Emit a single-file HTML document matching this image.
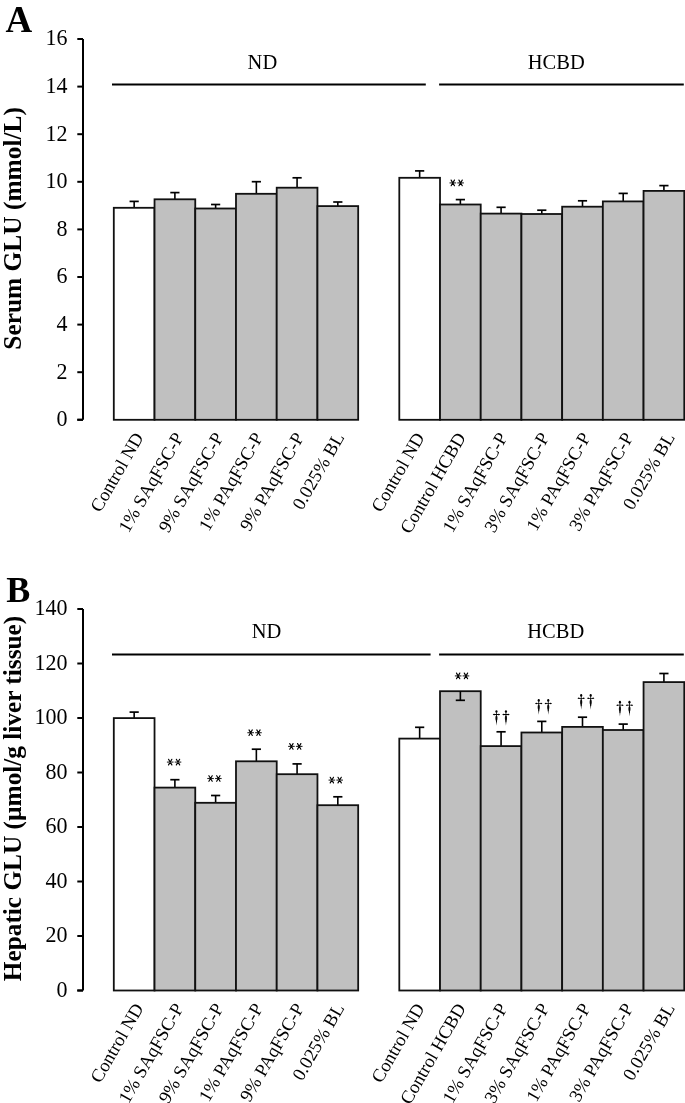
<!DOCTYPE html>
<html><head><meta charset="utf-8"><style>
html,body{margin:0;padding:0;background:#fff;}
body{width:685px;height:1103px;overflow:hidden;font-family:"Liberation Serif",serif;}
svg{display:block;will-change:transform;}
</style></head><body>
<svg width="685" height="1103" viewBox="0 0 685 1103">
<rect width="685" height="1103" fill="#fff"/>
<text x="5.6" y="31.8" font-size="37" font-weight="bold" font-family="Liberation Serif, serif">A</text>
<text x="6.2" y="601.5" font-size="36" font-weight="bold" font-family="Liberation Serif, serif">B</text>
<path d="M83.0,39 V419.8 M77.3,419.8 H83.0" stroke="#000" stroke-width="2" fill="none"/>
<line x1="77.3" y1="419.8" x2="83.0" y2="419.8" stroke="#000" stroke-width="2"/>
<text transform="translate(67.6,426.2) scale(1,1.09)" text-anchor="end" font-size="22" font-family="Liberation Serif, serif">0</text>
<line x1="77.3" y1="372.2" x2="83.0" y2="372.2" stroke="#000" stroke-width="2"/>
<text transform="translate(67.6,378.59999999999997) scale(1,1.09)" text-anchor="end" font-size="22" font-family="Liberation Serif, serif">2</text>
<line x1="77.3" y1="324.6" x2="83.0" y2="324.6" stroke="#000" stroke-width="2"/>
<text transform="translate(67.6,331.0) scale(1,1.09)" text-anchor="end" font-size="22" font-family="Liberation Serif, serif">4</text>
<line x1="77.3" y1="277.0" x2="83.0" y2="277.0" stroke="#000" stroke-width="2"/>
<text transform="translate(67.6,283.4) scale(1,1.09)" text-anchor="end" font-size="22" font-family="Liberation Serif, serif">6</text>
<line x1="77.3" y1="229.4" x2="83.0" y2="229.4" stroke="#000" stroke-width="2"/>
<text transform="translate(67.6,235.8) scale(1,1.09)" text-anchor="end" font-size="22" font-family="Liberation Serif, serif">8</text>
<line x1="77.3" y1="181.8" x2="83.0" y2="181.8" stroke="#000" stroke-width="2"/>
<text transform="translate(67.6,188.20000000000002) scale(1,1.09)" text-anchor="end" font-size="22" font-family="Liberation Serif, serif">10</text>
<line x1="77.3" y1="134.2" x2="83.0" y2="134.2" stroke="#000" stroke-width="2"/>
<text transform="translate(67.6,140.6) scale(1,1.09)" text-anchor="end" font-size="22" font-family="Liberation Serif, serif">12</text>
<line x1="77.3" y1="86.60000000000002" x2="83.0" y2="86.60000000000002" stroke="#000" stroke-width="2"/>
<text transform="translate(67.6,93.00000000000003) scale(1,1.09)" text-anchor="end" font-size="22" font-family="Liberation Serif, serif">14</text>
<line x1="77.3" y1="39.0" x2="83.0" y2="39.0" stroke="#000" stroke-width="2"/>
<text transform="translate(67.6,45.4) scale(1,1.09)" text-anchor="end" font-size="22" font-family="Liberation Serif, serif">16</text>
<line x1="112" y1="84.6" x2="425.8" y2="84.6" stroke="#000" stroke-width="2"/>
<line x1="439.1" y1="84.6" x2="683.8" y2="84.6" stroke="#000" stroke-width="2"/>
<text x="262.4" y="68.6" text-anchor="middle" font-size="20.5" font-family="Liberation Serif, serif">ND</text>
<text x="556.3" y="68.5" text-anchor="middle" font-size="20.5" font-family="Liberation Serif, serif">HCBD</text>
<line x1="134.16" y1="207.8" x2="134.16" y2="201.4" stroke="#000" stroke-width="1.6"/>
<line x1="129.56" y1="201.4" x2="138.76" y2="201.4" stroke="#000" stroke-width="1.7"/>
<rect x="113.80" y="207.8" width="40.73" height="212.00" fill="#fff" stroke="#111" stroke-width="1.8"/>
<text transform="translate(144.16,437.20) rotate(-60)" text-anchor="end" font-size="18.5" font-family="Liberation Serif, serif">Control ND</text>
<line x1="174.89" y1="199.3" x2="174.89" y2="192.6" stroke="#000" stroke-width="1.6"/>
<line x1="170.29" y1="192.6" x2="179.49" y2="192.6" stroke="#000" stroke-width="1.7"/>
<rect x="154.53" y="199.3" width="40.73" height="220.50" fill="#c0c0c0" stroke="#111" stroke-width="1.8"/>
<text transform="translate(184.19,437.20) rotate(-60)" text-anchor="end" font-size="18.5" font-family="Liberation Serif, serif">1% SAqFSC-P</text>
<line x1="215.62" y1="208.5" x2="215.62" y2="204.5" stroke="#000" stroke-width="1.6"/>
<line x1="211.03" y1="204.5" x2="220.22" y2="204.5" stroke="#000" stroke-width="1.7"/>
<rect x="195.26" y="208.5" width="40.73" height="211.30" fill="#c0c0c0" stroke="#111" stroke-width="1.8"/>
<text transform="translate(224.22,437.20) rotate(-60)" text-anchor="end" font-size="18.5" font-family="Liberation Serif, serif">9% SAqFSC-P</text>
<line x1="256.36" y1="193.8" x2="256.36" y2="181.7" stroke="#000" stroke-width="1.6"/>
<line x1="251.76" y1="181.7" x2="260.96" y2="181.7" stroke="#000" stroke-width="1.7"/>
<rect x="235.99" y="193.8" width="40.73" height="226.00" fill="#c0c0c0" stroke="#111" stroke-width="1.8"/>
<text transform="translate(263.66,437.20) rotate(-60)" text-anchor="end" font-size="18.5" font-family="Liberation Serif, serif">1% PAqFSC-P</text>
<line x1="297.08" y1="187.7" x2="297.08" y2="177.8" stroke="#000" stroke-width="1.6"/>
<line x1="292.48" y1="177.8" x2="301.69" y2="177.8" stroke="#000" stroke-width="1.7"/>
<rect x="276.72" y="187.7" width="40.73" height="232.10" fill="#c0c0c0" stroke="#111" stroke-width="1.8"/>
<text transform="translate(304.69,437.20) rotate(-60)" text-anchor="end" font-size="18.5" font-family="Liberation Serif, serif">9% PAqFSC-P</text>
<line x1="337.81" y1="206.1" x2="337.81" y2="202" stroke="#000" stroke-width="1.6"/>
<line x1="333.21" y1="202" x2="342.42" y2="202" stroke="#000" stroke-width="1.7"/>
<rect x="317.45" y="206.1" width="40.73" height="213.70" fill="#c0c0c0" stroke="#111" stroke-width="1.8"/>
<text transform="translate(344.81,437.20) rotate(-60)" text-anchor="end" font-size="18.5" font-family="Liberation Serif, serif">0.025% BL</text>
<line x1="419.65" y1="177.8" x2="419.65" y2="170.9" stroke="#000" stroke-width="1.6"/>
<line x1="415.05" y1="170.9" x2="424.25" y2="170.9" stroke="#000" stroke-width="1.7"/>
<rect x="399.30" y="177.8" width="40.71" height="242.00" fill="#fff" stroke="#111" stroke-width="1.8"/>
<text transform="translate(425.15,437.20) rotate(-60)" text-anchor="end" font-size="18.5" font-family="Liberation Serif, serif">Control ND</text>
<line x1="460.37" y1="204.5" x2="460.37" y2="199.6" stroke="#000" stroke-width="1.6"/>
<line x1="455.76" y1="199.6" x2="464.97" y2="199.6" stroke="#000" stroke-width="1.7"/>
<rect x="440.01" y="204.5" width="40.71" height="215.30" fill="#c0c0c0" stroke="#111" stroke-width="1.8"/>
<text transform="translate(466.37,437.20) rotate(-60)" text-anchor="end" font-size="18.5" font-family="Liberation Serif, serif">Control HCBD</text>
<line x1="501.08" y1="213.6" x2="501.08" y2="207.3" stroke="#000" stroke-width="1.6"/>
<line x1="496.48" y1="207.3" x2="505.68" y2="207.3" stroke="#000" stroke-width="1.7"/>
<rect x="480.72" y="213.6" width="40.71" height="206.20" fill="#c0c0c0" stroke="#111" stroke-width="1.8"/>
<text transform="translate(508.18,437.20) rotate(-60)" text-anchor="end" font-size="18.5" font-family="Liberation Serif, serif">1% SAqFSC-P</text>
<line x1="541.79" y1="214" x2="541.79" y2="210.2" stroke="#000" stroke-width="1.6"/>
<line x1="537.19" y1="210.2" x2="546.39" y2="210.2" stroke="#000" stroke-width="1.7"/>
<rect x="521.43" y="214" width="40.71" height="205.80" fill="#c0c0c0" stroke="#111" stroke-width="1.8"/>
<text transform="translate(549.99,437.20) rotate(-60)" text-anchor="end" font-size="18.5" font-family="Liberation Serif, serif">3% SAqFSC-P</text>
<line x1="582.50" y1="206.7" x2="582.50" y2="200.8" stroke="#000" stroke-width="1.6"/>
<line x1="577.89" y1="200.8" x2="587.10" y2="200.8" stroke="#000" stroke-width="1.7"/>
<rect x="562.14" y="206.7" width="40.71" height="213.10" fill="#c0c0c0" stroke="#111" stroke-width="1.8"/>
<text transform="translate(591.10,437.20) rotate(-60)" text-anchor="end" font-size="18.5" font-family="Liberation Serif, serif">1% PAqFSC-P</text>
<line x1="623.21" y1="201.4" x2="623.21" y2="193.4" stroke="#000" stroke-width="1.6"/>
<line x1="618.61" y1="193.4" x2="627.81" y2="193.4" stroke="#000" stroke-width="1.7"/>
<rect x="602.85" y="201.4" width="40.71" height="218.40" fill="#c0c0c0" stroke="#111" stroke-width="1.8"/>
<text transform="translate(633.81,437.20) rotate(-60)" text-anchor="end" font-size="18.5" font-family="Liberation Serif, serif">3% PAqFSC-P</text>
<line x1="663.91" y1="190.9" x2="663.91" y2="185.6" stroke="#000" stroke-width="1.6"/>
<line x1="659.31" y1="185.6" x2="668.51" y2="185.6" stroke="#000" stroke-width="1.7"/>
<rect x="643.56" y="190.9" width="40.71" height="228.90" fill="#c0c0c0" stroke="#111" stroke-width="1.8"/>
<text transform="translate(675.41,437.20) rotate(-60)" text-anchor="end" font-size="18.5" font-family="Liberation Serif, serif">0.025% BL</text>
<text transform="translate(20.9,228.4) rotate(-90)" text-anchor="middle" font-size="25.4" font-weight="bold" font-family="Liberation Serif, serif">Serum GLU (mmol/L)</text>
<path d="M449.50,182.90 H456.10" stroke="#000" stroke-opacity="0.85" stroke-width="1.1" fill="none"/><path d="M451.15,180.10 L454.45,185.70 M454.45,180.10 L451.15,185.70" stroke="#000" stroke-width="1.15" stroke-linecap="round" fill="none"/><path d="M457.30,182.90 H463.90" stroke="#000" stroke-opacity="0.85" stroke-width="1.1" fill="none"/><path d="M458.95,180.10 L462.25,185.70 M462.25,180.10 L458.95,185.70" stroke="#000" stroke-width="1.15" stroke-linecap="round" fill="none"/>
<path d="M83.0,609 V990.5 M77.3,990.5 H83.0" stroke="#000" stroke-width="2" fill="none"/>
<line x1="77.3" y1="990.5" x2="83.0" y2="990.5" stroke="#000" stroke-width="2"/>
<text transform="translate(67.6,996.9) scale(1,1.09)" text-anchor="end" font-size="22" font-family="Liberation Serif, serif">0</text>
<line x1="77.3" y1="936.0" x2="83.0" y2="936.0" stroke="#000" stroke-width="2"/>
<text transform="translate(67.6,942.4) scale(1,1.09)" text-anchor="end" font-size="22" font-family="Liberation Serif, serif">20</text>
<line x1="77.3" y1="881.5" x2="83.0" y2="881.5" stroke="#000" stroke-width="2"/>
<text transform="translate(67.6,887.9) scale(1,1.09)" text-anchor="end" font-size="22" font-family="Liberation Serif, serif">40</text>
<line x1="77.3" y1="827.0" x2="83.0" y2="827.0" stroke="#000" stroke-width="2"/>
<text transform="translate(67.6,833.4) scale(1,1.09)" text-anchor="end" font-size="22" font-family="Liberation Serif, serif">60</text>
<line x1="77.3" y1="772.5" x2="83.0" y2="772.5" stroke="#000" stroke-width="2"/>
<text transform="translate(67.6,778.9) scale(1,1.09)" text-anchor="end" font-size="22" font-family="Liberation Serif, serif">80</text>
<line x1="77.3" y1="718.0" x2="83.0" y2="718.0" stroke="#000" stroke-width="2"/>
<text transform="translate(67.6,724.4) scale(1,1.09)" text-anchor="end" font-size="22" font-family="Liberation Serif, serif">100</text>
<line x1="77.3" y1="663.5" x2="83.0" y2="663.5" stroke="#000" stroke-width="2"/>
<text transform="translate(67.6,669.9) scale(1,1.09)" text-anchor="end" font-size="22" font-family="Liberation Serif, serif">120</text>
<line x1="77.3" y1="609.0" x2="83.0" y2="609.0" stroke="#000" stroke-width="2"/>
<text transform="translate(67.6,615.4) scale(1,1.09)" text-anchor="end" font-size="22" font-family="Liberation Serif, serif">140</text>
<line x1="112" y1="654.6" x2="430.6" y2="654.6" stroke="#000" stroke-width="2"/>
<line x1="439.1" y1="654.6" x2="683.8" y2="654.6" stroke="#000" stroke-width="2"/>
<text x="266.5" y="637.8" text-anchor="middle" font-size="20.5" font-family="Liberation Serif, serif">ND</text>
<text x="555.8" y="638.4" text-anchor="middle" font-size="20.5" font-family="Liberation Serif, serif">HCBD</text>
<line x1="134.16" y1="718.1" x2="134.16" y2="712.1" stroke="#000" stroke-width="1.6"/>
<line x1="129.56" y1="712.1" x2="138.76" y2="712.1" stroke="#000" stroke-width="1.7"/>
<rect x="113.80" y="718.1" width="40.73" height="272.40" fill="#fff" stroke="#111" stroke-width="1.8"/>
<text transform="translate(144.16,1007.90) rotate(-60)" text-anchor="end" font-size="18.5" font-family="Liberation Serif, serif">Control ND</text>
<line x1="174.89" y1="787.6" x2="174.89" y2="779.7" stroke="#000" stroke-width="1.6"/>
<line x1="170.29" y1="779.7" x2="179.49" y2="779.7" stroke="#000" stroke-width="1.7"/>
<rect x="154.53" y="787.6" width="40.73" height="202.90" fill="#c0c0c0" stroke="#111" stroke-width="1.8"/>
<text transform="translate(184.19,1007.90) rotate(-60)" text-anchor="end" font-size="18.5" font-family="Liberation Serif, serif">1% SAqFSC-P</text>
<line x1="215.62" y1="802.8" x2="215.62" y2="795.5" stroke="#000" stroke-width="1.6"/>
<line x1="211.03" y1="795.5" x2="220.22" y2="795.5" stroke="#000" stroke-width="1.7"/>
<rect x="195.26" y="802.8" width="40.73" height="187.70" fill="#c0c0c0" stroke="#111" stroke-width="1.8"/>
<text transform="translate(224.22,1007.90) rotate(-60)" text-anchor="end" font-size="18.5" font-family="Liberation Serif, serif">9% SAqFSC-P</text>
<line x1="256.36" y1="761.3" x2="256.36" y2="749.2" stroke="#000" stroke-width="1.6"/>
<line x1="251.76" y1="749.2" x2="260.96" y2="749.2" stroke="#000" stroke-width="1.7"/>
<rect x="235.99" y="761.3" width="40.73" height="229.20" fill="#c0c0c0" stroke="#111" stroke-width="1.8"/>
<text transform="translate(263.66,1007.90) rotate(-60)" text-anchor="end" font-size="18.5" font-family="Liberation Serif, serif">1% PAqFSC-P</text>
<line x1="297.08" y1="774.2" x2="297.08" y2="763.9" stroke="#000" stroke-width="1.6"/>
<line x1="292.48" y1="763.9" x2="301.69" y2="763.9" stroke="#000" stroke-width="1.7"/>
<rect x="276.72" y="774.2" width="40.73" height="216.30" fill="#c0c0c0" stroke="#111" stroke-width="1.8"/>
<text transform="translate(304.69,1007.90) rotate(-60)" text-anchor="end" font-size="18.5" font-family="Liberation Serif, serif">9% PAqFSC-P</text>
<line x1="337.81" y1="805.2" x2="337.81" y2="796.8" stroke="#000" stroke-width="1.6"/>
<line x1="333.21" y1="796.8" x2="342.42" y2="796.8" stroke="#000" stroke-width="1.7"/>
<rect x="317.45" y="805.2" width="40.73" height="185.30" fill="#c0c0c0" stroke="#111" stroke-width="1.8"/>
<text transform="translate(344.81,1007.90) rotate(-60)" text-anchor="end" font-size="18.5" font-family="Liberation Serif, serif">0.025% BL</text>
<line x1="419.65" y1="738.6" x2="419.65" y2="727.3" stroke="#000" stroke-width="1.6"/>
<line x1="415.05" y1="727.3" x2="424.25" y2="727.3" stroke="#000" stroke-width="1.7"/>
<rect x="399.30" y="738.6" width="40.71" height="251.90" fill="#fff" stroke="#111" stroke-width="1.8"/>
<text transform="translate(425.15,1007.90) rotate(-60)" text-anchor="end" font-size="18.5" font-family="Liberation Serif, serif">Control ND</text>
<line x1="460.37" y1="691.2" x2="460.37" y2="700.3" stroke="#000" stroke-width="1.6"/>
<line x1="455.76" y1="700.3" x2="464.97" y2="700.3" stroke="#000" stroke-width="1.7"/>
<rect x="440.01" y="691.2" width="40.71" height="299.30" fill="#c0c0c0" stroke="#111" stroke-width="1.8"/>
<line x1="460.37" y1="691.2" x2="460.37" y2="700.3" stroke="#000" stroke-width="1.6"/>
<line x1="455.76" y1="700.3" x2="464.97" y2="700.3" stroke="#000" stroke-width="1.7"/>
<text transform="translate(466.37,1007.90) rotate(-60)" text-anchor="end" font-size="18.5" font-family="Liberation Serif, serif">Control HCBD</text>
<line x1="501.08" y1="746.1" x2="501.08" y2="731.8" stroke="#000" stroke-width="1.6"/>
<line x1="496.48" y1="731.8" x2="505.68" y2="731.8" stroke="#000" stroke-width="1.7"/>
<rect x="480.72" y="746.1" width="40.71" height="244.40" fill="#c0c0c0" stroke="#111" stroke-width="1.8"/>
<text transform="translate(508.18,1007.90) rotate(-60)" text-anchor="end" font-size="18.5" font-family="Liberation Serif, serif">1% SAqFSC-P</text>
<line x1="541.79" y1="732.5" x2="541.79" y2="721.4" stroke="#000" stroke-width="1.6"/>
<line x1="537.19" y1="721.4" x2="546.39" y2="721.4" stroke="#000" stroke-width="1.7"/>
<rect x="521.43" y="732.5" width="40.71" height="258.00" fill="#c0c0c0" stroke="#111" stroke-width="1.8"/>
<text transform="translate(549.99,1007.90) rotate(-60)" text-anchor="end" font-size="18.5" font-family="Liberation Serif, serif">3% SAqFSC-P</text>
<line x1="582.50" y1="726.9" x2="582.50" y2="717.2" stroke="#000" stroke-width="1.6"/>
<line x1="577.89" y1="717.2" x2="587.10" y2="717.2" stroke="#000" stroke-width="1.7"/>
<rect x="562.14" y="726.9" width="40.71" height="263.60" fill="#c0c0c0" stroke="#111" stroke-width="1.8"/>
<text transform="translate(591.10,1007.90) rotate(-60)" text-anchor="end" font-size="18.5" font-family="Liberation Serif, serif">1% PAqFSC-P</text>
<line x1="623.21" y1="730" x2="623.21" y2="724.1" stroke="#000" stroke-width="1.6"/>
<line x1="618.61" y1="724.1" x2="627.81" y2="724.1" stroke="#000" stroke-width="1.7"/>
<rect x="602.85" y="730" width="40.71" height="260.50" fill="#c0c0c0" stroke="#111" stroke-width="1.8"/>
<text transform="translate(633.81,1007.90) rotate(-60)" text-anchor="end" font-size="18.5" font-family="Liberation Serif, serif">3% PAqFSC-P</text>
<line x1="663.91" y1="682.1" x2="663.91" y2="673.5" stroke="#000" stroke-width="1.6"/>
<line x1="659.31" y1="673.5" x2="668.51" y2="673.5" stroke="#000" stroke-width="1.7"/>
<rect x="643.56" y="682.1" width="40.71" height="308.40" fill="#c0c0c0" stroke="#111" stroke-width="1.8"/>
<text transform="translate(675.41,1007.90) rotate(-60)" text-anchor="end" font-size="18.5" font-family="Liberation Serif, serif">0.025% BL</text>
<text transform="translate(21.2,798.5) rotate(-90)" text-anchor="middle" font-size="25.3" font-weight="bold" font-family="Liberation Serif, serif">Hepatic GLU (&#181;mol/g liver tissue)</text>
<path d="M166.90,762.10 H173.50" stroke="#000" stroke-opacity="0.85" stroke-width="1.1" fill="none"/><path d="M168.55,759.30 L171.85,764.90 M171.85,759.30 L168.55,764.90" stroke="#000" stroke-width="1.15" stroke-linecap="round" fill="none"/><path d="M174.70,762.10 H181.30" stroke="#000" stroke-opacity="0.85" stroke-width="1.1" fill="none"/><path d="M176.35,759.30 L179.65,764.90 M179.65,759.30 L176.35,764.90" stroke="#000" stroke-width="1.15" stroke-linecap="round" fill="none"/>
<path d="M207.25,778.50 H213.85" stroke="#000" stroke-opacity="0.85" stroke-width="1.1" fill="none"/><path d="M208.90,775.70 L212.20,781.30 M212.20,775.70 L208.90,781.30" stroke="#000" stroke-width="1.15" stroke-linecap="round" fill="none"/><path d="M215.05,778.50 H221.65" stroke="#000" stroke-opacity="0.85" stroke-width="1.1" fill="none"/><path d="M216.70,775.70 L220.00,781.30 M220.00,775.70 L216.70,781.30" stroke="#000" stroke-width="1.15" stroke-linecap="round" fill="none"/>
<path d="M247.35,732.70 H253.95" stroke="#000" stroke-opacity="0.85" stroke-width="1.1" fill="none"/><path d="M249.00,729.90 L252.30,735.50 M252.30,729.90 L249.00,735.50" stroke="#000" stroke-width="1.15" stroke-linecap="round" fill="none"/><path d="M255.15,732.70 H261.75" stroke="#000" stroke-opacity="0.85" stroke-width="1.1" fill="none"/><path d="M256.80,729.90 L260.10,735.50 M260.10,729.90 L256.80,735.50" stroke="#000" stroke-width="1.15" stroke-linecap="round" fill="none"/>
<path d="M288.10,746.40 H294.70" stroke="#000" stroke-opacity="0.85" stroke-width="1.1" fill="none"/><path d="M289.75,743.60 L293.05,749.20 M293.05,743.60 L289.75,749.20" stroke="#000" stroke-width="1.15" stroke-linecap="round" fill="none"/><path d="M295.90,746.40 H302.50" stroke="#000" stroke-opacity="0.85" stroke-width="1.1" fill="none"/><path d="M297.55,743.60 L300.85,749.20 M300.85,743.60 L297.55,749.20" stroke="#000" stroke-width="1.15" stroke-linecap="round" fill="none"/>
<path d="M328.55,780.10 H335.15" stroke="#000" stroke-opacity="0.85" stroke-width="1.1" fill="none"/><path d="M330.20,777.30 L333.50,782.90 M333.50,777.30 L330.20,782.90" stroke="#000" stroke-width="1.15" stroke-linecap="round" fill="none"/><path d="M336.35,780.10 H342.95" stroke="#000" stroke-opacity="0.85" stroke-width="1.1" fill="none"/><path d="M338.00,777.30 L341.30,782.90 M341.30,777.30 L338.00,782.90" stroke="#000" stroke-width="1.15" stroke-linecap="round" fill="none"/>
<path d="M454.85,675.90 H461.45" stroke="#000" stroke-opacity="0.85" stroke-width="1.1" fill="none"/><path d="M456.50,673.10 L459.80,678.70 M459.80,673.10 L456.50,678.70" stroke="#000" stroke-width="1.15" stroke-linecap="round" fill="none"/><path d="M462.65,675.90 H469.25" stroke="#000" stroke-opacity="0.85" stroke-width="1.1" fill="none"/><path d="M464.30,673.10 L467.60,678.70 M467.60,673.10 L464.30,678.70" stroke="#000" stroke-width="1.15" stroke-linecap="round" fill="none"/>
<g fill="#000"><ellipse cx="496.45" cy="711.50" rx="1.1" ry="1.35"/><rect x="496.05" y="712.2" width="0.8" height="10"/><path d="M492.75,714.45 Q493.75,713.20 494.95,714.00 L497.95,714.00 Q499.15,713.20 500.15,714.45 Q499.15,715.70 497.95,714.90 L494.95,714.90 Q493.75,715.70 492.75,714.45 Z"/><path d="M496.05,715.50 C495.15,716.80 495.15,719.00 495.90,720.80 L496.45,725.80 L497.00,720.80 C497.75,719.00 497.75,716.80 496.85,715.50 Z" fill-opacity="0.9"/><ellipse cx="505.95" cy="711.50" rx="1.1" ry="1.35"/><rect x="505.55" y="712.2" width="0.8" height="10"/><path d="M502.25,714.45 Q503.25,713.20 504.45,714.00 L507.45,714.00 Q508.65,713.20 509.65,714.45 Q508.65,715.70 507.45,714.90 L504.45,714.90 Q503.25,715.70 502.25,714.45 Z"/><path d="M505.55,715.50 C504.65,716.80 504.65,719.00 505.40,720.80 L505.95,725.80 L506.50,720.80 C507.25,719.00 507.25,716.80 506.35,715.50 Z" fill-opacity="0.9"/></g>
<g fill="#000"><ellipse cx="538.75" cy="700.45" rx="1.1" ry="1.35"/><rect x="538.35" y="701.15" width="0.8" height="10"/><path d="M535.05,703.40 Q536.05,702.15 537.25,702.95 L540.25,702.95 Q541.45,702.15 542.45,703.40 Q541.45,704.65 540.25,703.85 L537.25,703.85 Q536.05,704.65 535.05,703.40 Z"/><path d="M538.35,704.45 C537.45,705.75 537.45,707.95 538.20,709.75 L538.75,714.75 L539.30,709.75 C540.05,707.95 540.05,705.75 539.15,704.45 Z" fill-opacity="0.9"/><ellipse cx="548.25" cy="700.45" rx="1.1" ry="1.35"/><rect x="547.85" y="701.15" width="0.8" height="10"/><path d="M544.55,703.40 Q545.55,702.15 546.75,702.95 L549.75,702.95 Q550.95,702.15 551.95,703.40 Q550.95,704.65 549.75,703.85 L546.75,703.85 Q545.55,704.65 544.55,703.40 Z"/><path d="M547.85,704.45 C546.95,705.75 546.95,707.95 547.70,709.75 L548.25,714.75 L548.80,709.75 C549.55,707.95 549.55,705.75 548.65,704.45 Z" fill-opacity="0.9"/></g>
<g fill="#000"><ellipse cx="581.20" cy="695.40" rx="1.1" ry="1.35"/><rect x="580.80" y="696.1" width="0.8" height="10"/><path d="M577.50,698.35 Q578.50,697.10 579.70,697.90 L582.70,697.90 Q583.90,697.10 584.90,698.35 Q583.90,699.60 582.70,698.80 L579.70,698.80 Q578.50,699.60 577.50,698.35 Z"/><path d="M580.80,699.40 C579.90,700.70 579.90,702.90 580.65,704.70 L581.20,709.70 L581.75,704.70 C582.50,702.90 582.50,700.70 581.60,699.40 Z" fill-opacity="0.9"/><ellipse cx="590.70" cy="695.40" rx="1.1" ry="1.35"/><rect x="590.30" y="696.1" width="0.8" height="10"/><path d="M587.00,698.35 Q588.00,697.10 589.20,697.90 L592.20,697.90 Q593.40,697.10 594.40,698.35 Q593.40,699.60 592.20,698.80 L589.20,698.80 Q588.00,699.60 587.00,698.35 Z"/><path d="M590.30,699.40 C589.40,700.70 589.40,702.90 590.15,704.70 L590.70,709.70 L591.25,704.70 C592.00,702.90 592.00,700.70 591.10,699.40 Z" fill-opacity="0.9"/></g>
<g fill="#000"><ellipse cx="619.95" cy="702.20" rx="1.1" ry="1.35"/><rect x="619.55" y="702.9" width="0.8" height="10"/><path d="M616.25,705.15 Q617.25,703.90 618.45,704.70 L621.45,704.70 Q622.65,703.90 623.65,705.15 Q622.65,706.40 621.45,705.60 L618.45,705.60 Q617.25,706.40 616.25,705.15 Z"/><path d="M619.55,706.20 C618.65,707.50 618.65,709.70 619.40,711.50 L619.95,716.50 L620.50,711.50 C621.25,709.70 621.25,707.50 620.35,706.20 Z" fill-opacity="0.9"/><ellipse cx="629.45" cy="702.20" rx="1.1" ry="1.35"/><rect x="629.05" y="702.9" width="0.8" height="10"/><path d="M625.75,705.15 Q626.75,703.90 627.95,704.70 L630.95,704.70 Q632.15,703.90 633.15,705.15 Q632.15,706.40 630.95,705.60 L627.95,705.60 Q626.75,706.40 625.75,705.15 Z"/><path d="M629.05,706.20 C628.15,707.50 628.15,709.70 628.90,711.50 L629.45,716.50 L630.00,711.50 C630.75,709.70 630.75,707.50 629.85,706.20 Z" fill-opacity="0.9"/></g>
</svg>
</body></html>
